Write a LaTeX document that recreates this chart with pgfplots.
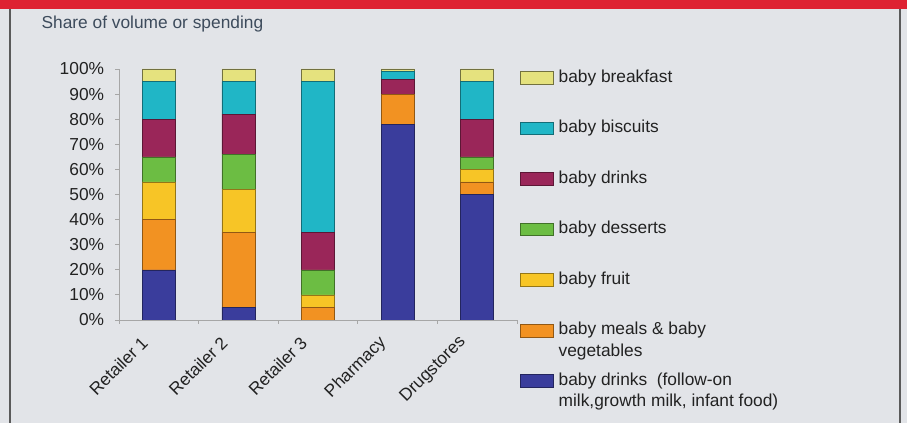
\documentclass[border=0pt]{standalone}
\usepackage{pgfplots}
\pgfplotsset{compat=1.18}
\usepackage{fontspec}
\setmainfont{Liberation Sans}
\definecolor{bgc}{HTML}{E2E4E8}
\definecolor{topred}{HTML}{DE2232}
\definecolor{framec}{HTML}{5A5A5A}
\definecolor{ctitle}{HTML}{3D4B5C}
\definecolor{ctext}{HTML}{222222}
\definecolor{cblue}{HTML}{3A3D9C}
\definecolor{corange}{HTML}{F29222}
\definecolor{cyellow}{HTML}{F7C526}
\definecolor{cgreen}{HTML}{6CBD43}
\definecolor{cmaroon}{HTML}{9A2659}
\definecolor{cteal}{HTML}{20B6C6}
\definecolor{cbreak}{HTML}{E5E27E}
\pgfplotsset{
  lgimg/.style={legend image code/.code={\draw[##1] (0pt,-4.8pt) rectangle (24.75pt,4.8pt);}},
}
\begin{document}
\begin{tikzpicture}
\fill[bgc] (0pt,0pt) rectangle (680.25pt,317.25pt);
\fill[topred] (0pt,310.5pt) rectangle (680.25pt,317.25pt);
\draw[framec,line width=1.5pt] (7.5pt,0pt) -- (7.5pt,310.5pt);
\draw[framec,line width=1.5pt] (675pt,0pt) -- (675pt,310.5pt);
\node[anchor=west,text=ctitle,font=\fontsize{13}{15}\selectfont,inner sep=0pt] at (31pt,299.5pt) {Share of volume or spending};
\begin{axis}[
  at={(89.25pt,77.25pt)}, anchor=south west,
  scale only axis, width=298.5pt, height=188.25pt,
  ybar stacked, bar width=0.415,
  xmin=-0.5, xmax=4.5, ymin=0, ymax=100,
  axis x line*=bottom, axis y line*=left,
  axis line style={draw=gray!70, line width=0.6pt},
  tick align=outside, major tick length=3pt,
  tick style={draw=gray!70, line width=0.6pt},
  xtick={-0.5,0.5,1.5,2.5,3.5,4.5}, xticklabels={,,,,,},
  extra x ticks={0,1,2,3,4},
  extra x tick labels={Retailer 1,Retailer 2,Retailer 3,Pharmacy,Drugstores},
  extra x tick style={major tick length=0pt},
  xticklabel style={rotate=45, anchor=east, inner sep=0pt, font=\fontsize{13}{15}\selectfont, text=ctext, xshift=-17.8pt, yshift=-3pt},
  ytick={0,10,20,30,40,50,60,70,80,90,100},
  yticklabels={0\%,10\%,20\%,30\%,40\%,50\%,60\%,70\%,80\%,90\%,100\%},
  yticklabel style={font=\fontsize{13}{15}\selectfont, text=ctext, inner sep=0pt, xshift=-8pt},
  legend style={at={(1.008,1.004)}, anchor=north west, draw=none, fill=none,
    inner sep=0pt, row sep=23.7pt, column sep=2.5pt,
    font=\fontsize{13}{15}\selectfont, text=ctext,
    nodes={inner sep=1pt, text height=9.5pt, text depth=2.7pt}},
  legend cell align=left, reverse legend,
]
\addplot[fill=cblue, draw=cblue!60!black, lgimg] coordinates {(0,20) (1,5) (2,0) (3,78) (4,50)};
\addlegendentry{\rlap{\smash{\raisebox{-16pt}{milk,growth milk, infant food)}}}baby drinks\ \ (follow-on}
\addplot[fill=corange, draw=corange!60!black, lgimg] coordinates {(0,20) (1,30) (2,5) (3,12) (4,5)};
\addlegendentry{\rlap{\smash{\raisebox{-16pt}{vegetables}}}baby meals \& baby}
\addplot[fill=cyellow, draw=cyellow!60!black, lgimg] coordinates {(0,15) (1,17) (2,5) (3,0) (4,5)};
\addlegendentry{baby fruit}
\addplot[fill=cgreen, draw=cgreen!60!black, lgimg] coordinates {(0,10) (1,14) (2,10) (3,0) (4,5)};
\addlegendentry{baby desserts}
\addplot[fill=cmaroon, draw=cmaroon!60!black, lgimg] coordinates {(0,15) (1,16) (2,15) (3,6) (4,15)};
\addlegendentry{baby drinks}
\addplot[fill=cteal, draw=cteal!60!black, lgimg] coordinates {(0,15) (1,13) (2,60) (3,3) (4,15)};
\addlegendentry{baby biscuits}
\addplot[fill=cbreak, draw=cbreak!50!black, lgimg] coordinates {(0,5) (1,5) (2,5) (3,1) (4,5)};
\addlegendentry{baby breakfast}
\end{axis}
\pgfresetboundingbox
\useasboundingbox (0pt,0pt) rectangle (680.25pt,317.25pt);
\end{tikzpicture}
\end{document}
